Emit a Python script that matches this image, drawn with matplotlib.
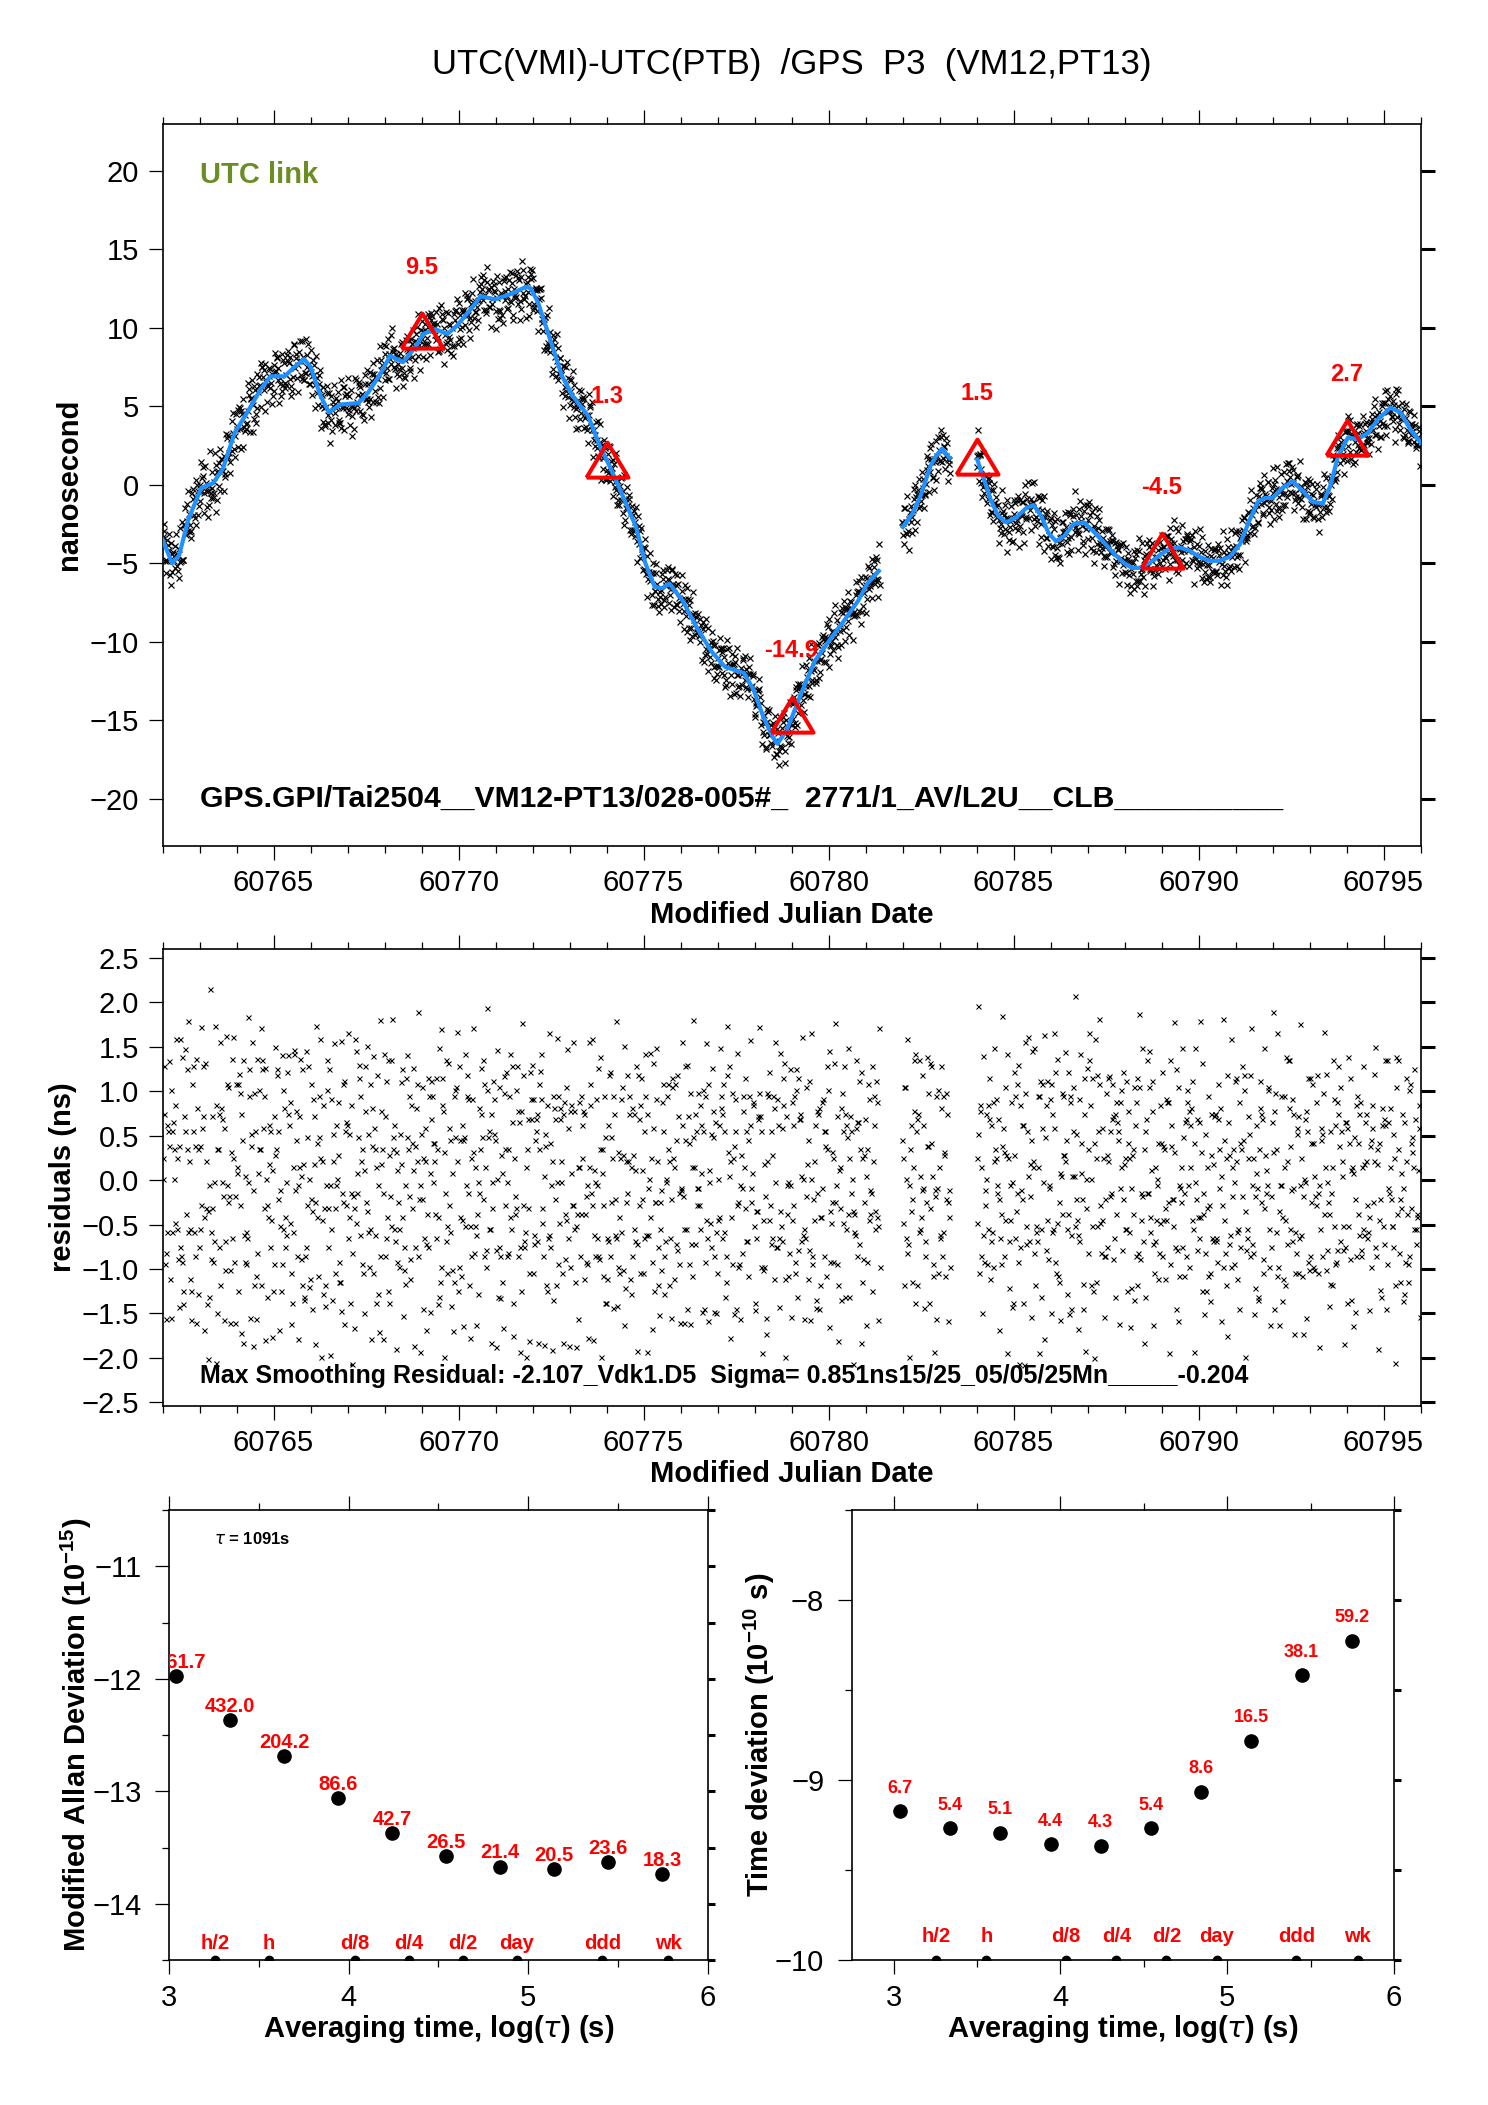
import matplotlib.pyplot as plt
import numpy as np
from matplotlib.ticker import MultipleLocator, FormatStrFormatter

plt.rcParams['font.family'] = ['Liberation Sans', 'DejaVu Sans']
plt.rcParams['mathtext.fontset'] = 'custom'
plt.rcParams['mathtext.rm'] = 'Liberation Sans'
plt.rcParams['mathtext.bf'] = 'Liberation Sans:bold'

# ---- data ----
title = "UTC(VMI)-UTC(PTB)  /GPS  P3  (VM12,PT13)"
link_info = "GPS.GPI/Tai2504__VM12-PT13/028-005#_  2771/1_AV/L2U__CLB__________"
resid_info = "Max Smoothing Residual: -2.107_Vdk1.D5  Sigma= 0.851ns15/25_05/05/25Mn_____-0.204"

# smoothed curve (blue), nan = break in the line
smooth_mjd = [60762.00, 60762.26, 60762.45, 60762.70, 60763.05, 60763.37, 60763.63, 60763.95,
              60764.34, 60764.66, 60764.92, 60765.30, 60765.57, 60765.83, 60766.00, 60766.28,
              60766.50, 60766.80, 60767.30, 60767.57, 60767.90, 60768.15, 60768.50, 60768.85,
              60769.05, 60769.37, 60769.70, 60769.95, 60770.34, 60770.60, 60770.99, 60771.37,
              60771.83, 60771.95, 60772.15, 60772.47, 60772.80, 60773.10, 60773.50, 60773.83,
              60774.08, 60774.40, 60774.80, 60775.05, 60775.30, 60775.50, 60775.70, 60776.06,
              60776.44, 60776.83, 60777.20, 60777.72, 60777.98, 60778.24, 60778.50, 60778.62,
              60778.88, 60779.26, 60779.64, 60780.03, 60780.41, 60780.80, 60781.05, 60781.36,
              np.nan,
              60782.01, 60782.28, 60782.49, 60782.76, 60782.90, 60783.07, 60783.27,
              np.nan,
              60784.02, 60784.18, 60784.39, 60784.59, 60784.80, 60785.07, 60785.34, 60785.54,
              60785.75, 60785.95, 60786.15, 60786.36, 60786.63, 60786.90, 60787.17, 60787.45,
              60787.72, 60787.99, 60788.20, 60788.40, 60788.67, 60788.95, 60789.20, 60789.48,
              60789.75, 60790.03, 60790.30, 60790.57, 60790.84, 60791.12, 60791.39, 60791.60,
              60791.80, 60792.00, 60792.27, 60792.55, 60792.82, 60793.09, 60793.36, 60793.56,
              60793.77, 60794.04, 60794.31, 60794.58, 60794.85, 60795.19, 60795.46, 60795.73,
              60796.00]
smooth_ns = [-3.5, -5.0, -4.5, -2.2, -0.2, 0.1, 1.0, 3.3,
             4.8, 6.1, 6.9, 6.9, 7.5, 8.0, 7.5, 5.6,
             4.6, 5.1, 5.2, 5.9, 7.1, 8.2, 7.8, 8.8,
             9.6, 9.9, 9.6, 10.1, 11.2, 12.0, 11.8, 12.1,
             12.6, 12.5, 11.6, 9.3, 6.9, 5.6, 4.4, 2.4,
             1.2, -0.5, -2.7, -5.0, -6.5, -6.6, -6.3, -7.4,
             -9.1, -10.6, -11.6, -12.0, -13.1, -14.8, -16.1, -16.5,
             -15.6, -13.3, -11.2, -9.9, -8.7, -7.4, -6.3, -5.5,
             np.nan,
             -2.7, -1.8, -0.7, 1.2, 1.8, 2.3, 1.7,
             np.nan,
             1.6, 0.5, -1.0, -2.0, -2.4, -2.1, -1.5, -1.3,
             -2.0, -3.1, -3.6, -3.3, -2.5, -2.4, -3.0, -3.7,
             -4.4, -5.0, -5.3, -5.3, -5.0, -4.5, -4.1, -4.0,
             -4.2, -4.6, -4.85, -4.85, -4.6, -3.8, -2.2, -1.1,
             -0.85, -0.85, -0.2, 0.2, -0.4, -1.1, -1.2, -0.1,
             1.8, 3.0, 2.9, 3.3, 4.15, 4.9, 4.6, 3.5,
             2.7]

# data gaps (MJD) and sampling of the measurements
data_gaps = [(60781.40, 60781.97), (60783.30, 60783.99)]
sample_start = 60762.0
n_days = 34
samples_per_day = 60

# residuals: a coarse character and a fine digit per sample
low_tail = "0123456789ABCDEFGH"
core = "IaJKbLMcNOdPQeRSfTUgVWhXYZ"
high_tail = "ijklmnopqrstuvwxyz"
resid_codes = (
    "PfXkIb2WcTmRaZ0gLhSeNVyQdJ7UoMcKYaBhTrOe"
    "hOtSdK4aWZgLcRn8XeIbMUjQfVpNAYTcG5dPazLb"
    "VcLbQr1YeHgTMkaXdWO9fNJuSZchP3bRiKmUaeDX"
    "eTaWjNYg6RZ2bLdOMcsQXhIfUkP8VaSCbnJeWgTq"
    "KZhUcXo3PaNdRgWbL7fEMVieTYlSQ0cOaJrbXgdN"
    "bRXmTgdW5LaPcZjOhVKe1USnfMYaQ9IcbtNgXeDa"
    "ZdNaVhQ4cwTMbXgRo6eLUJcFaSkWPbY2OdhIfTmc"
    "aOgSXeKbJ8nRZc0hTVdWyLfMaQUb3PcGjNYeRgXi"
    "XbTeMaR7hZcqNOfKdW1UgLjVSbPaYeI4cmQhTdBZ"
    "cVhLdXaS9eOZpTgWbM2RfKcNaUiQYd6JbHeXrTgP"
    "gMaYcTjQ3bRWeZxLdO8VhNfaKUSc0PkbXeIhWgTd"
    "TePcXgN6aZbLsWhU1RdMkOaYfQVc5JeCgbSXhTma"
    "aXdRbOgV4TcZeWlNhK9LaUYfqMcSb2PdIgQeXjTZ"
    "QcWeLaZrTgNb7XdOhUYf0KjSaVMcGePb3ihTdXRa"
    "bTgZdMhXa5ReOcWkLVf8NaUsQYbJc1SePgDaXhTn"
    "YaMcRgTbX2eWnZhOdLQ6fVaUKcjNSbP9eIgXdTaw"
    "dZbNgXeRaT7WcMhLmOf3aUSYdkQVbJ0cPeHgTaXc"
    "RgUaXcLeOb4TZhWdNy8MfaQVcSjKbYe1PgIdXTaE"
    "cKbWhZaTeR9XgNdOo5LfMaUcYVSbq2JePhdTgXaI"
    "TaXeNgRbZc6hWdL"
    "hWdQaTcZgM3XbReNsU8LfYaOcVkSbK1PdeIgTXaJ"
    "bReXgZaTcN5h"
    "kQaTWfcLYhNb3eRZgOd8XUMiaVSJ0hcPbmTeKXgd"
    "RYdNhbWe5TXaLgcrOZ1fQMUbjSVaIh7cKePTdZXg"
    "cgXOTaLbwhRdZ4eNVMfU9YSaiQcKbP2TdJhXeWOb"
    "WMbfZqTcReXhLa6OdNgUYjVaS0cbQKe3IhTgPXdc"
    "TecXgaZRbNhW7LdsOMfUkYa1VcSQbJeh8PgdTXaK"
    "hZaWcTgXbRmNe2dLOVfaUYc9SjbKQePg4IdhTXaM"
    "aNdXhcTRgbZeWo6LMdfOaUYcnSVb0KQePgIhdTXa"
    "XbgTZcaRhNWed3LOMfpVaUcYSk7bQJePgHdaTXhc"
    "ecRXaTgZbNhWd9OlLfMUaYVcSbjK1PeQgIdThXaZ"
    "gTaXZcbRNehWd4MLOtfVUaYcSkQbJ8ePgHdaXTbc"
    "ZXacgTRbNhWe6dOLMfsUaVYcS2jbKQePgIdhTXaW"
    "bcXaTZgRheNWd0LMOfqVUaYcSk5QbJePgHdaXTcg"
    "QdXiK3bUeNgTa0ZhLcWmRbPfV8YeSkJaOcMgTX5h"
    "MaWfRn6TcYhLbQeVZ2gOdUjXaKsNbIcS9fPhWeTl"
    "eUbJcZ4XgMaRhTfLwVdO8NbYkSeQaHgW1cPjTbXo"
    "YeKcWa3TjbRhOgXzdNMfLU8aQcVbSZeiPgdTXh"
    "bOaTcXhRg0WdZeLNkfMUYbaSVcQ6JdePgIhTXcaWbr"
    "hMQcZebT2aWgXRdVoNLfUYc7aSbPOeKgJdhTaXc"
    "UgcaLhWXe5ZbTRdNOqfMaYcV1SbQPeJkgIdhaTXZ"
    "eaVgSXhcb8TZRdWLNOfMtUYaQc4VbKPeJgdHaTXcb"
    "QhTXbcaZgReW6dNLpOfMUaY0VcSbKjePgIdhTXa"
    "cNaXTbgZeRhWd1LOMfUVaYlcSbQ9JePgdIaTXhc"
    "XgbaZcTRNehWdL7OMfUsVaYcSbjK2QePgHdaTXc"
    "aYcTXgZbReNhWd3LOMfUaVcSkbQJe8PgdIhTaXbc"
    "ZcgXaTbReNWhdL0OMfVUaYcrSjbKQeP5gHdaTXhc"
    "TbaXcgZRhNWedLO4MfUVaYcSkbQJeP9gdIhaXTcb"
    "gXcaTZbRNheWdLOM6fUaVYcSjbnKQe2PgHdaTXc"
    "cTgXaZbRhNWedLOMfU1aVYcSkbQJePg7dIhaTXcb"
    "bZaXcTgReNhWdLOMfUV3aYcSjbKQePgm8HdaTXcg"
    "XaTcgZRbheWNdLOMfUaV5YcSkbQJePg0IdhaTXcW"
)
fine_codes = (
    "7302958146 2851937064 4619078253 0583716249 9164027385 3708251946 6291840537 1850362974 "
    "4827561093 0936418275 8153029647 2749608135 5038172649 6482910375 3907265184 9412857036 "
    "1695830472 7254069318 0468351927 5836194720 8273941560 1947582063 5732016489 3061728495 "
    "2560718394 4813265079 9185403726 6290437158 6941285037 5029876341 2678139504 8174950263 "
    "3819064725 9361740852 7042689153 4509823617 0476293581 2685019437 1593740862 7928361504 "
    "9150842736 8472635901 6830954271 0635172948 4713605928 0159382764 3267810495 5290846173 "
    "7829134065 5736094128 9014625387 1847390256 2086471953 3920857416 4751293068 8061534729 "
    "5397260814 6148723590 0386157942 3925067481 1652938704 9807451362 5149038276 6073915842 "
    "8034517269 2571694083 7820461593 4516280937 6485072193 4093867125 1957302648 9280743516 "
    "3271849506 7362508914 8604195237 2738619054 0918364752 1824039576 6379520814 5104287369 "
    "7546193028 8659172430 2413876095 0862451937 2194705836 3047685291 9568034127 7391586402 "
    "9630281574 6285910743 4072819365 1623048795 4758032619 0519436827 8236957041 6047915238 "
    "1803657294 7936284150 5190742683 3759260418 6312489075 2470518396 0847365912 9185073624 "
    "8067925341 5183627049 3629108457 2406831597 3529146807 9804351762 7351682094 5872619043 "
    "0745813962 4612097835 1983546270 8314096752 5281670439 3157826904 6502917384 0649352817 "
    "9436058217 8726340159 2764083519 4927185306 2817394650 0394851276 9038651742 7180643925 "
    "7604582193 6541972308 4817239065 3506928471 1958206374 2069735841 5490317628 8263510794 "
    "4372961058 7830416925 0156824739 1748295036 6089153427 1475208693 8723596041 5931470682 "
    "3541728906 9208653714 3685140297 2093857164 8126049375 4952781036 7204958613 6817342059 "
    "0693571842 5637094218 1349762085 9452016378 5827430619 8014369527 6098213754 3176904825 "
    "2450986173 3781502649 4562037819 0738251946 9718362045 6325847190 9871654302 4605198732 "
    "4063719582 0596218473 2317905468 8249367015 7391850246 1847036952 5036482197 6982143750 "
    "1275643098 9413758026 8620391574 2317586049 6804927531 2750193864 0945738216 5861079423 "
    "3962185704 7068425139 3478621905 9520734618 8537209416 4689301752 7152849063 1094658237 "
    "0149876352 3526974081 6703195842 7639205481 5682031947 8094162573 4286570319 3475918260 "
    "2816354079 5239708146 1350926478 6890341752"
)
# residual value (ns) for each coarse code, low tail / core / high tail
code_levels = np.concatenate([np.linspace(-1.85, -1.4, len(low_tail)),
                              np.linspace(-1.25, 1.25, len(core)),
                              np.linspace(1.4, 1.85, len(high_tail))])
code_alphabet = low_tail + core + high_tail
fine_levels = np.linspace(-0.3, 0.3, 10)

# triangles every 5 days with their values
mark_mjd = [60769, 60774, 60779, 60784, 60789, 60794]
mark_ns = [9.5, 1.3, -14.9, 1.5, -4.5, 2.7]

# stability analysis
tau_s = [1091, 2182, 4364, 8728, 17456, 34912, 69824, 139648, 279296, 558592]
mdev_1e15 = [1061.7, 432.0, 204.2, 86.6, 42.7, 26.5, 21.4, 20.5, 23.6, 18.3]
tdev_1e10 = [6.7, 5.4, 5.1, 4.4, 4.3, 5.4, 8.6, 16.5, 38.1, 59.2]
span_names = ['h/2', 'h', 'd/8', 'd/4', 'd/2', 'day', 'ddd', 'wk']
span_sec = [1800, 3600, 10800, 21600, 43200, 86400, 259200, 604800]

# ---- build the sample series ----
t_all = sample_start + np.arange(n_days * samples_per_day) / samples_per_day
keep = np.ones(t_all.size, bool)
for g0, g1 in data_gaps:
    keep &= ~((t_all >= g0) & (t_all <= g1))
t_samp = t_all[keep]
coarse = code_levels[[code_alphabet.index(c) for c in resid_codes]]
fine = fine_levels[[int(c) for c in fine_codes if c.isdigit()]]
n = min(t_samp.size, coarse.size, fine.size)
t_samp = t_samp[:n]
resid = coarse[:n] + fine[:n]

sm_t = np.array(smooth_mjd)
sm_v = np.array(smooth_ns)
ok = np.isfinite(sm_t)
raw = np.interp(t_samp, sm_t[ok], sm_v[ok]) + resid

# ---- figure ----
W, H = 1488, 2105
fig = plt.figure(figsize=(W / 100, H / 100), dpi=100)


def box(l, t, r, b):
    return [l / W, 1 - b / H, (r - l) / W, (b - t) / H]


ax1 = fig.add_axes(box(162.5, 123.5, 1420.5, 845.8))
ax2 = fig.add_axes(box(162.5, 949.2, 1420.5, 1405.7))
ax3 = fig.add_axes(box(169.2, 1510, 707.5, 1960))
ax4 = fig.add_axes(box(852, 1510, 1394, 1960))


def frame(ax, ypad=7):
    for sp in ax.spines.values():
        sp.set_linewidth(1.2)
    ax.tick_params(which='both', direction='out', top=True, right=True,
                   width=0.9, labelsize=21)
    ax.tick_params(which='major', length=10, pad=7)
    ax.tick_params(which='minor', length=5)
    ax.tick_params(axis='y', which='major', pad=ypad)


def thick_right(ax, size=None):
    for tk in ax.yaxis.get_major_ticks() + ax.yaxis.get_minor_ticks():
        tk.tick2line.set_markeredgewidth(2.2)
        if size:
            tk.tick2line.set_markersize(size)


bold = dict(fontweight='bold')

fig.text(791.5 / W, 1 - 64.4 / H, title, ha='center', va='center', fontsize=25)

# top panel
ax1.plot(t_samp, raw, 'x', color='k', ms=4.5, mew=0.85, zorder=2)
ax1.plot(smooth_mjd, smooth_ns, '-', color='#1E90FF', lw=3.0, zorder=3)
tri = [(-1.2, -0.75), (1.2, -0.75), (0, 1.25), (-1.2, -0.75)]
ax1.plot(mark_mjd, mark_ns, linestyle='none', marker=tri, ms=31.5, mfc='none',
         mec='red', mew=2.9, zorder=4)
for x, v in zip(mark_mjd, mark_ns):
    ax1.annotate(f"{v:.1f}", (x, v), xytext=(0, 49), textcoords='offset points',
                 ha='center', va='center', color='red', fontsize=17, **bold)
ax1.set_xlim(60762, 60796)
ax1.set_ylim(-23, 23)
ax1.set_yticks(np.arange(-20, 21, 5))
ax1.xaxis.set_major_locator(MultipleLocator(5))
ax1.xaxis.set_minor_locator(MultipleLocator(1))
ax1.xaxis.set_major_formatter(FormatStrFormatter('%d'))
frame(ax1)
thick_right(ax1)
ax1.text(60763, 19.75, "UTC link", color='#6B8E23', fontsize=21, va='center', **bold)
ax1.text(60763, -20, link_info, color='k', fontsize=21.7, va='center', **bold)
ax1.set_xlabel("Modified Julian Date", fontsize=21, **bold)
ax1.xaxis.set_label_coords(0.5, -0.0764)
ax1.set_ylabel("nanosecond", fontsize=21, **bold)
ax1.yaxis.set_label_coords(-0.063, 0.5)

# residuals
ax2.plot(t_samp, resid, 'x', color='k', ms=3.6, mew=0.75)
ax2.set_xlim(60762, 60796)
ax2.set_ylim(-2.54, 2.6)
ax2.set_yticks(np.arange(-2.5, 2.51, 0.5))
ax2.xaxis.set_major_locator(MultipleLocator(5))
ax2.xaxis.set_minor_locator(MultipleLocator(1))
ax2.xaxis.set_major_formatter(FormatStrFormatter('%d'))
frame(ax2)
thick_right(ax2)
ax2.text(60763, -2.2, resid_info, color='k', fontsize=18, va='center', **bold)
ax2.set_xlabel("Modified Julian Date", fontsize=21, **bold)
ax2.xaxis.set_label_coords(0.5, -0.118)
ax2.set_ylabel("residuals (ns)", fontsize=21, **bold)
ax2.yaxis.set_label_coords(-0.068, 0.5)

# stability panels
tau_x = np.log10(tau_s)
span_x = np.log10(span_sec)


def stability(ax, yvals, labels, ylim, xlim, lab_off, span_off, lab_size, yl):
    ax.set_xlim(*xlim)
    ax.set_ylim(*ylim)
    ax.plot(tau_x, yvals, 'o', color='k', ms=9.5)
    for x, y, s in zip(tau_x, yvals, labels):
        ax.annotate(s, (x, y), xytext=(0, lab_off), textcoords='offset points',
                    ha='center', va='bottom', color='red', fontsize=lab_size,
                    clip_on=True, **bold)
    ybot = ax.get_ylim()[0]
    ax.plot(span_x, [ybot] * len(span_x), 'o', color='k', ms=6, clip_on=True)
    for x, s in zip(span_x, span_names):
        ax.annotate(s, (x, ybot), xytext=(0, span_off), textcoords='offset points',
                    ha='center', va='bottom', color='red', fontsize=14.5, **bold)
    ax.set_xticks([3, 4, 5, 6])
    ax.xaxis.set_minor_locator(MultipleLocator(0.5))
    ax.yaxis.set_minor_locator(MultipleLocator(0.5))
    frame(ax, ypad=10)
    thick_right(ax, size=5)
    ax.set_xlabel(r"Averaging time, log($\tau$) (s)", fontsize=21, **bold)
    ax.xaxis.set_label_coords(0.5, -0.117)
    ax.set_ylabel(yl, fontsize=21, **bold)


mdev_log = np.log10(np.array(mdev_1e15) * 1e-15)
stability(ax3, mdev_log, [f"{v:.1f}" for v in mdev_1e15], (-14.5, -10.5), (3, 6),
          3, 5, 14.5, r"Modified Allan Deviation (10$^{\mathbf{-15}}$)")
ax3.set_yticks([-14, -13, -12, -11])
ax3.yaxis.set_label_coords(-0.14, 0.5)
ax3.text(3.25, -10.76, r"$\tau$ = 1091s", fontsize=12, va='center', **bold)

tdev_log = np.log10(np.array(tdev_1e10) * 1e-10)
stability(ax4, tdev_log, [f"{v:.1f}" for v in tdev_1e10], (-10, -7.5), (2.75, 6),
          10.5, 10, 13, r"Time deviation (10$^{\mathbf{-10}}$ s)")
ax4.set_yticks([-10, -9, -8])
ax4.yaxis.set_label_coords(-0.138, 0.5)

fig.savefig("out.png", dpi=100)
